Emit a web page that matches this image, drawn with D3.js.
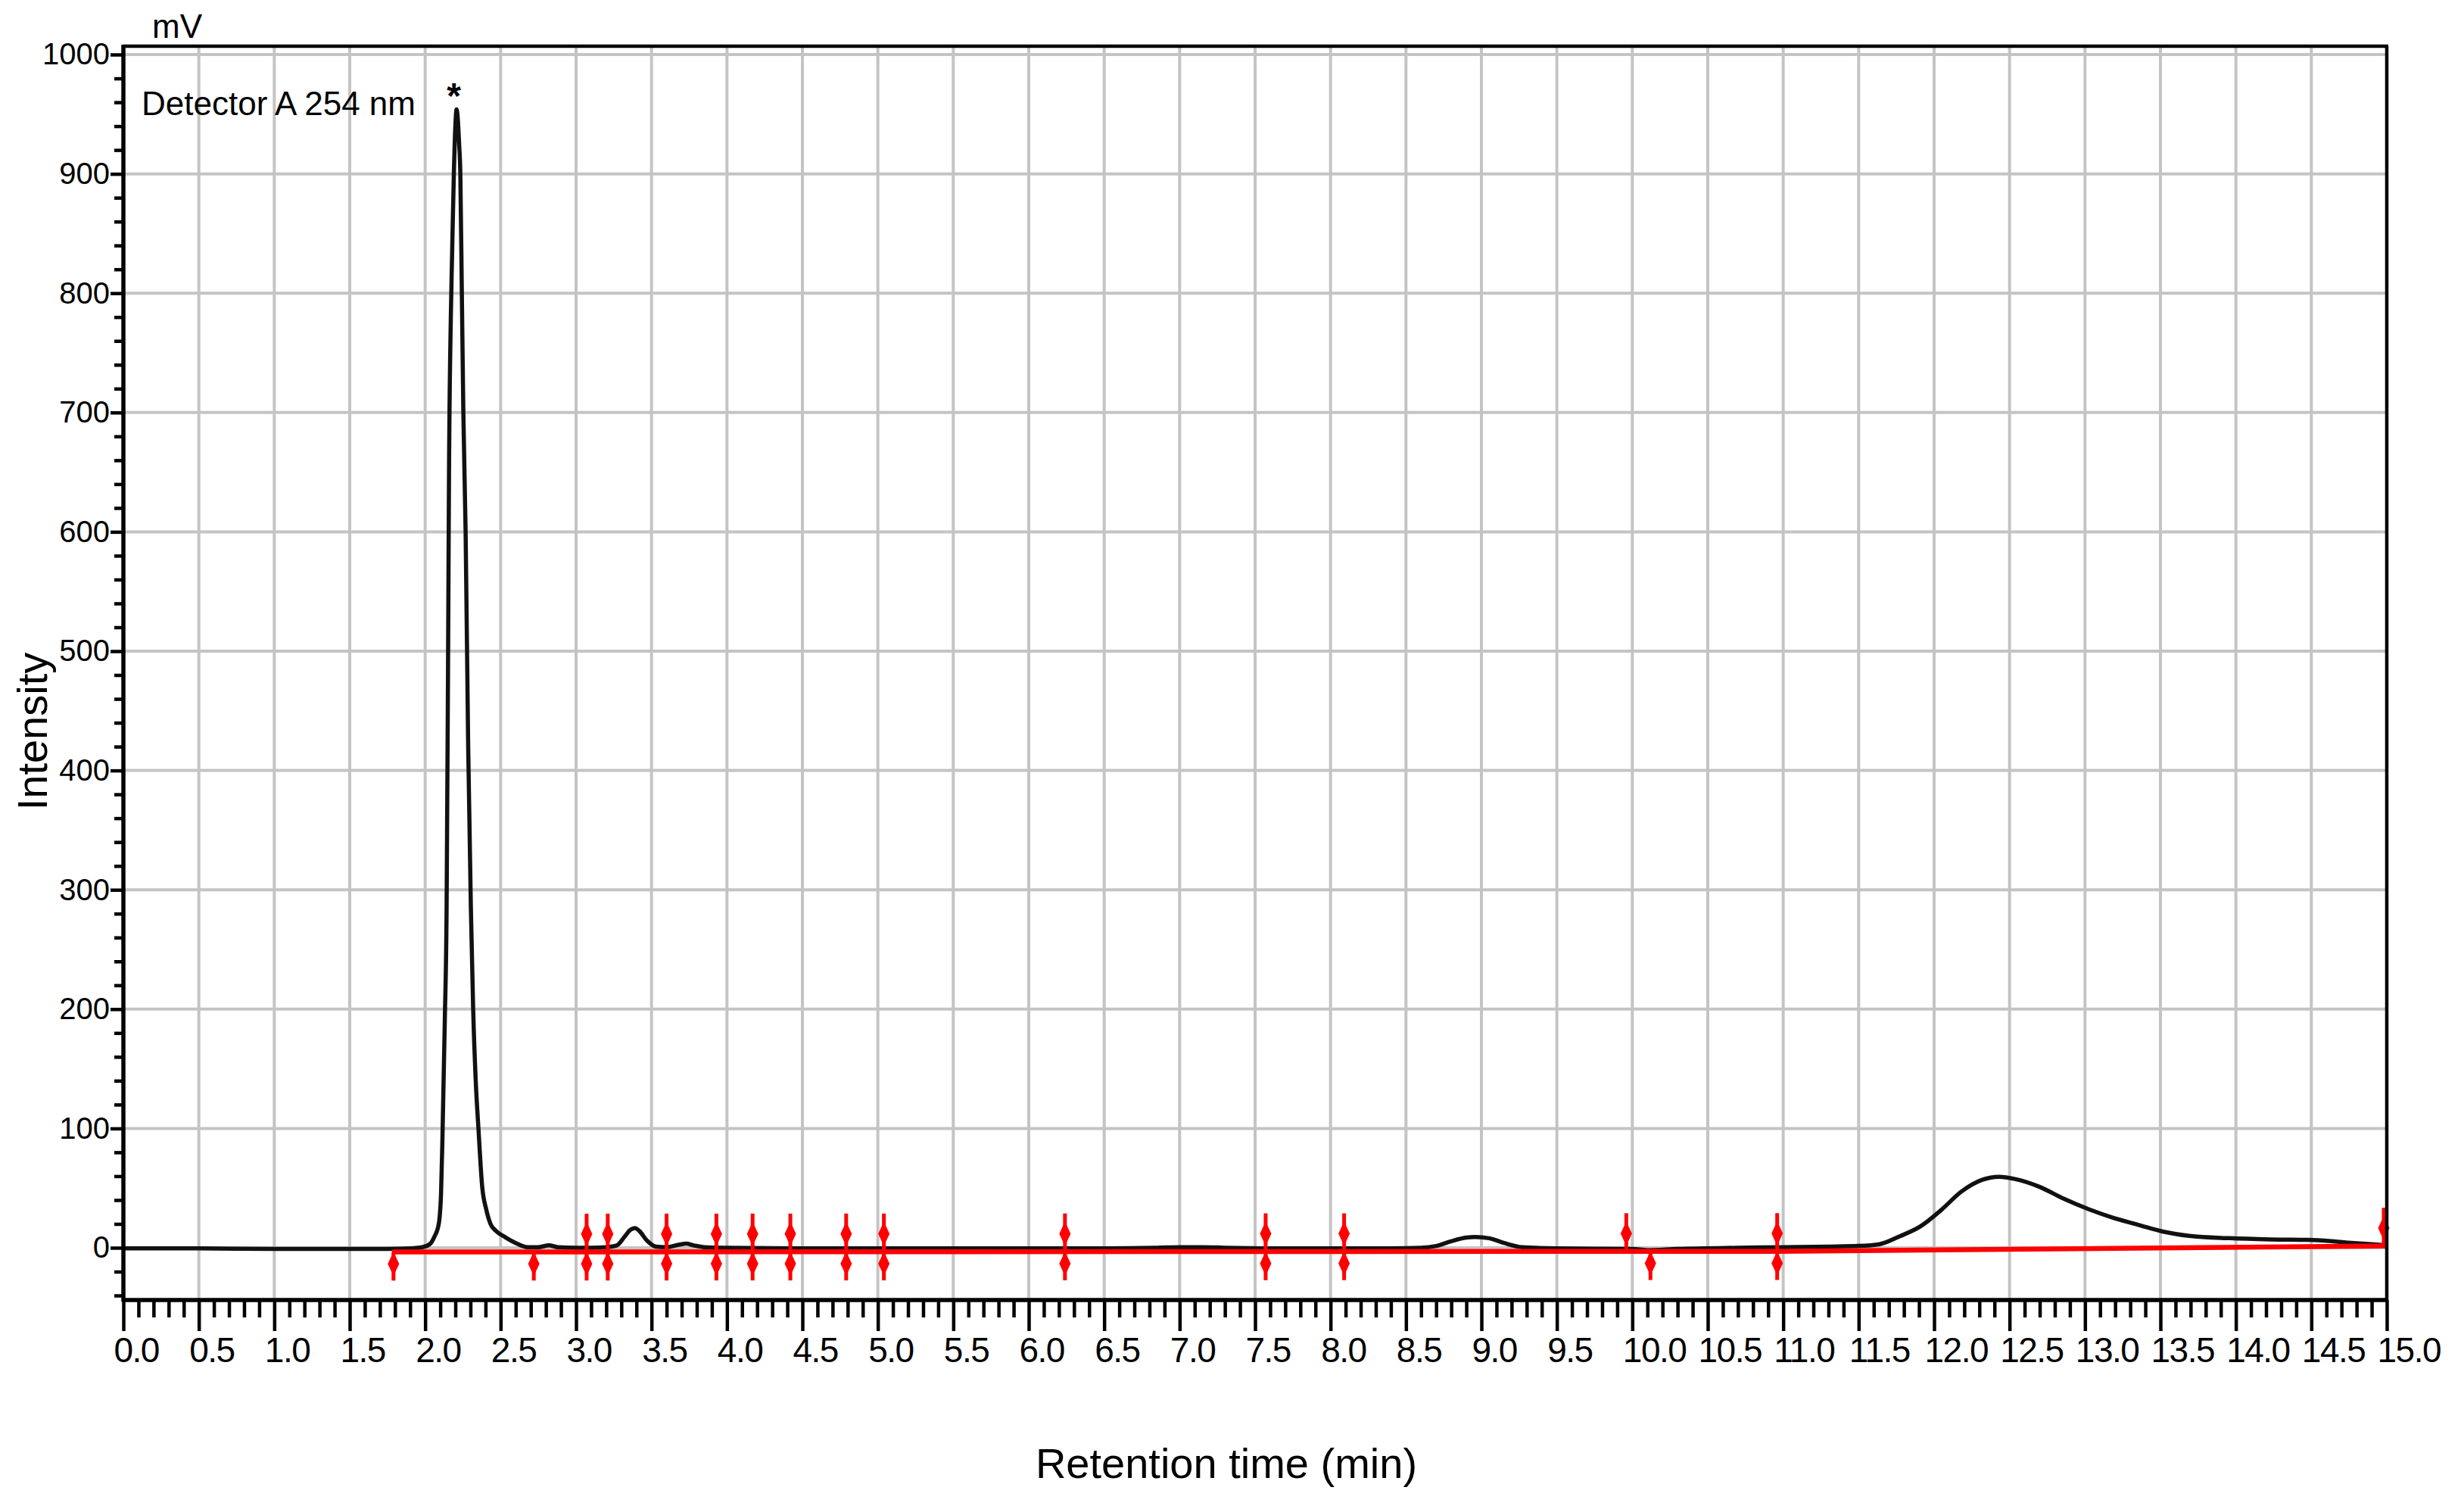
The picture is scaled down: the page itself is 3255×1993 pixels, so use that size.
<!DOCTYPE html>
<html><head><meta charset="utf-8">
<script src="https://cdn.jsdelivr.net/npm/d3@7"></script>
<style>html,body{margin:0;padding:0;background:#fff;} svg{display:block;}</style>
</head><body><svg id="chart" width="3255" height="1993"></svg>
<script>
// ---------------- data ----------------
const chromTime = [0, 0.5, 1.0, 1.5, 1.75, 1.9, 1.98, 2.03, 2.06, 2.09, 2.105, 2.115, 2.13, 2.142, 2.152, 2.158, 2.17, 2.178, 2.19, 2.2, 2.208,
  2.215, 2.225, 2.233, 2.243, 2.253, 2.268, 2.285, 2.303, 2.318, 2.335, 2.353, 2.378, 2.405, 2.433, 2.47, 2.529, 2.6, 2.68,
  2.75, 2.82, 2.88, 3.0, 3.1, 3.2, 3.27, 3.32, 3.36, 3.39, 3.42, 3.47, 3.53, 3.6, 3.68, 3.73, 3.78, 3.85, 4.0, 4.5, 5.0, 5.5, 6.0, 6.5,
  6.85, 7.0, 7.15, 7.3, 7.6, 8.0, 8.4, 8.6, 8.7, 8.8, 8.9, 8.96, 9.05, 9.15, 9.27, 9.5, 10.0, 10.1, 10.3, 10.7, 11.0, 11.3, 11.5,
  11.64, 11.77, 11.91, 12.05, 12.18, 12.32, 12.43, 12.54, 12.7, 12.86, 13.03, 13.19, 13.36, 13.52, 13.69, 13.96, 14.23, 14.51, 14.78, 15.0];
const chromValue = [-0.5, -0.5, -1, -1, -1, -0.5, 0.5, 3, 9, 20, 45, 95, 190, 284, 500, 650, 780, 830, 900, 940, 954,
  948, 925, 900, 800, 700, 600, 420, 284, 200, 140, 100, 51, 32, 20, 14, 9, 4, 0.5,
  0.5, 2, 0.5, 0, 0, 0.5, 2, 9, 15, 16.5, 14, 6, 1, 0.5, 2.5, 3.5, 2, 0.5, 0, -0.5, -0.5, -0.5, -0.5, -0.5,
  0, 0.5, 0.5, 0, -0.5, -0.5, -0.5, 0, 1.5, 5.5, 8.5, 9, 8, 4, 0.5, -0.5, -1, -2, -1, 0, 0.5, 1, 1.5,
  3, 9.5, 18, 32, 47, 57, 59.5, 57.5, 51, 41, 32, 25, 19, 13.5, 10, 8, 7, 6.5, 4, 2];

const baseTime = [1.78, 10.96, 15.0];
const baseValue = [-3.5, -3.0, 1.5];

const markerTime = [1.79, 2.72, 3.07, 3.21, 3.60, 3.93, 4.17, 4.42, 4.79, 5.04, 6.24, 7.57, 8.09, 9.96, 10.12, 10.96, 14.98];
const markerType = ["down", "down", "both", "both", "both", "both", "both", "both", "both", "both", "both", "both", "both", "up", "down", "both", "up"];

const xTickValues = [0, 0.5, 1, 1.5, 2, 2.5, 3, 3.5, 4, 4.5, 5, 5.5, 6, 6.5, 7, 7.5, 8, 8.5, 9, 9.5, 10, 10.5, 11, 11.5, 12, 12.5, 13, 13.5, 14, 14.5, 15];
const xTickLabels = ["0.0","0.5","1.0","1.5","2.0","2.5","3.0","3.5","4.0","4.5","5.0","5.5","6.0","6.5","7.0","7.5","8.0","8.5","9.0","9.5","10.0","10.5","11.0","11.5","12.0","12.5","13.0","13.5","14.0","14.5","15.0"];
const yTickValues = [0, 100, 200, 300, 400, 500, 600, 700, 800, 900, 1000];
const yTickLabels = ["0","100","200","300","400","500","600","700","800","900","1000"];

const xTitle = "Retention time (min)";
const yTitle = "Intensity";
const unitLabel = "mV";
const detectorLabel = "Detector A 254 nm";
const peakMark = "*";
const peakMarkTime = 2.215;
const peakMarkValue = 954;

// ---------------- layout ----------------
const FONT = "'Liberation Sans', Arial, Helvetica, sans-serif";
const L = 163, R = 3153, T = 61, B = 1717;
const svg = d3.select("#chart");
svg.append("rect").attr("width", 3255).attr("height", 1993).attr("fill", "#fff");

const x = d3.scaleLinear().domain([0, 15]).range([L, R]);
const y = d3.scaleLinear().domain([-43.8, 1007]).range([B, T]);

// grid
const grid = svg.append("g");
grid.selectAll("line.v").data(xTickValues.filter(d => d > 0 && d < 15)).join("line")
  .attr("x1", d => x(d)).attr("x2", d => x(d)).attr("y1", T).attr("y2", B)
  .attr("stroke", "#c4c4c4").attr("stroke-width", 4);
grid.selectAll("line.h").data(yTickValues).join("line")
  .attr("x1", L).attr("x2", R).attr("y1", d => y(d)).attr("y2", d => y(d))
  .attr("stroke", "#c4c4c4").attr("stroke-width", 4);

// chromatogram
const chrom = chromTime.map((t, i) => ({t, v: chromValue[i]}));
svg.append("path").datum(chrom)
  .attr("d", d3.line().x(d => x(d.t)).y(d => y(d.v)).curve(d3.curveMonotoneX))
  .attr("fill", "none").attr("stroke", "#111").attr("stroke-width", 5.5).attr("stroke-linejoin", "round");

// integration baseline
const base = baseTime.map((t, i) => ({t, v: baseValue[i]}));
const baseAt = d3.scaleLinear().domain(baseTime).range(baseValue);
svg.append("path").datum(base)
  .attr("d", d3.line().x(d => x(d.t)).y(d => y(d.v)))
  .attr("fill", "none").attr("stroke", "#ff0000").attr("stroke-width", 6.5);

// markers
const MARK_UP = 32, MARK_DOWN = 24, DIA_UP = 15, DIA_DOWN = 10;
const mk = svg.append("g").attr("fill", "#ff0000").attr("stroke", "#ff0000");
markerTime.forEach((t, i) => {
  const b = baseAt(t), cx = x(t), type = markerType[i];
  const diamond = (cy) => `M${cx},${cy - 15}L${cx + 7},${cy}L${cx},${cy + 15}L${cx - 7},${cy}Z`;
  if (type === "up" || type === "both") {
    mk.append("line").attr("x1", cx).attr("x2", cx).attr("y1", y(b)).attr("y2", y(b + MARK_UP)).attr("stroke-width", 5);
    mk.append("path").attr("d", diamond(y(b + DIA_UP))).attr("stroke-width", 1);
  }
  if (type === "down" || type === "both") {
    mk.append("line").attr("x1", cx).attr("x2", cx).attr("y1", y(b)).attr("y2", y(b - MARK_DOWN)).attr("stroke-width", 5);
    mk.append("path").attr("d", diamond(y(b - DIA_DOWN))).attr("stroke-width", 1);
  }
});

// frame
svg.append("line").attr("x1", L).attr("x2", R + 2).attr("y1", T).attr("y2", T).attr("stroke", "#000").attr("stroke-width", 4.5);
svg.append("line").attr("x1", R).attr("x2", R).attr("y1", T).attr("y2", B).attr("stroke", "#000").attr("stroke-width", 4.5);

// axes
const minorX = d3.range(0, 151).map(i => i / 10).filter(d => Math.abs(d * 2 - Math.round(d * 2)) > 1e-6);
const minorY = d3.range(-2, 51).map(i => i * 20).filter(d => d % 100 !== 0);

const xg = svg.append("g").attr("transform", `translate(0,${B})`);
xg.append("g").call(d3.axisBottom(x).tickValues(minorX).tickSize(23).tickFormat(""));
xg.append("g").call(d3.axisBottom(x).tickValues(xTickValues).tickSize(41).tickPadding(8).tickFormat((d, i) => xTickLabels[i]));
xg.selectAll(".domain").remove();
xg.selectAll(".tick line").attr("stroke", "#000").attr("stroke-width", 4.5);
xg.selectAll(".tick text").attr("text-anchor", "start").attr("x", -13)
  .attr("font-family", FONT).attr("font-size", 46).attr("letter-spacing", -1.5).attr("fill", "#000");

const yg = svg.append("g").attr("transform", `translate(${L},0)`);
yg.append("g").call(d3.axisLeft(y).tickValues(minorY).tickSize(12).tickFormat(""));
yg.append("g").call(d3.axisLeft(y).tickValues(yTickValues).tickSize(17).tickPadding(1).tickFormat((d, i) => yTickLabels[i]));
yg.selectAll(".domain").remove();
yg.selectAll(".tick line").attr("stroke", "#000").attr("stroke-width", 4.5);
yg.selectAll(".tick text").attr("font-family", FONT).attr("font-size", 40).attr("fill", "#000");

svg.append("line").attr("x1", L).attr("x2", L).attr("y1", T - 2).attr("y2", B + 2).attr("stroke", "#000").attr("stroke-width", 5.5);
svg.append("line").attr("x1", L - 2).attr("x2", R + 2).attr("y1", B).attr("y2", B).attr("stroke", "#000").attr("stroke-width", 5.5);

// texts
svg.append("text").attr("x", 201).attr("y", 50).attr("font-family", FONT).attr("font-size", 44).text(unitLabel);
svg.append("text").attr("x", 187).attr("y", 152).attr("font-family", FONT).attr("font-size", 44).text(detectorLabel);
svg.append("text").attr("x", x(peakMarkTime) - 5).attr("y", y(peakMarkValue) - 2).attr("text-anchor", "middle")
  .attr("font-family", FONT).attr("font-size", 48).attr("font-weight", "bold").text(peakMark);
svg.append("text").attr("x", 1620).attr("y", 1952).attr("text-anchor", "middle").attr("font-family", FONT).attr("font-size", 56).text(xTitle);
svg.append("text").attr("transform", "translate(62,966) rotate(-90)").attr("text-anchor", "middle")
  .attr("font-family", FONT).attr("font-size", 56).text(yTitle);
</script>
</body></html>
